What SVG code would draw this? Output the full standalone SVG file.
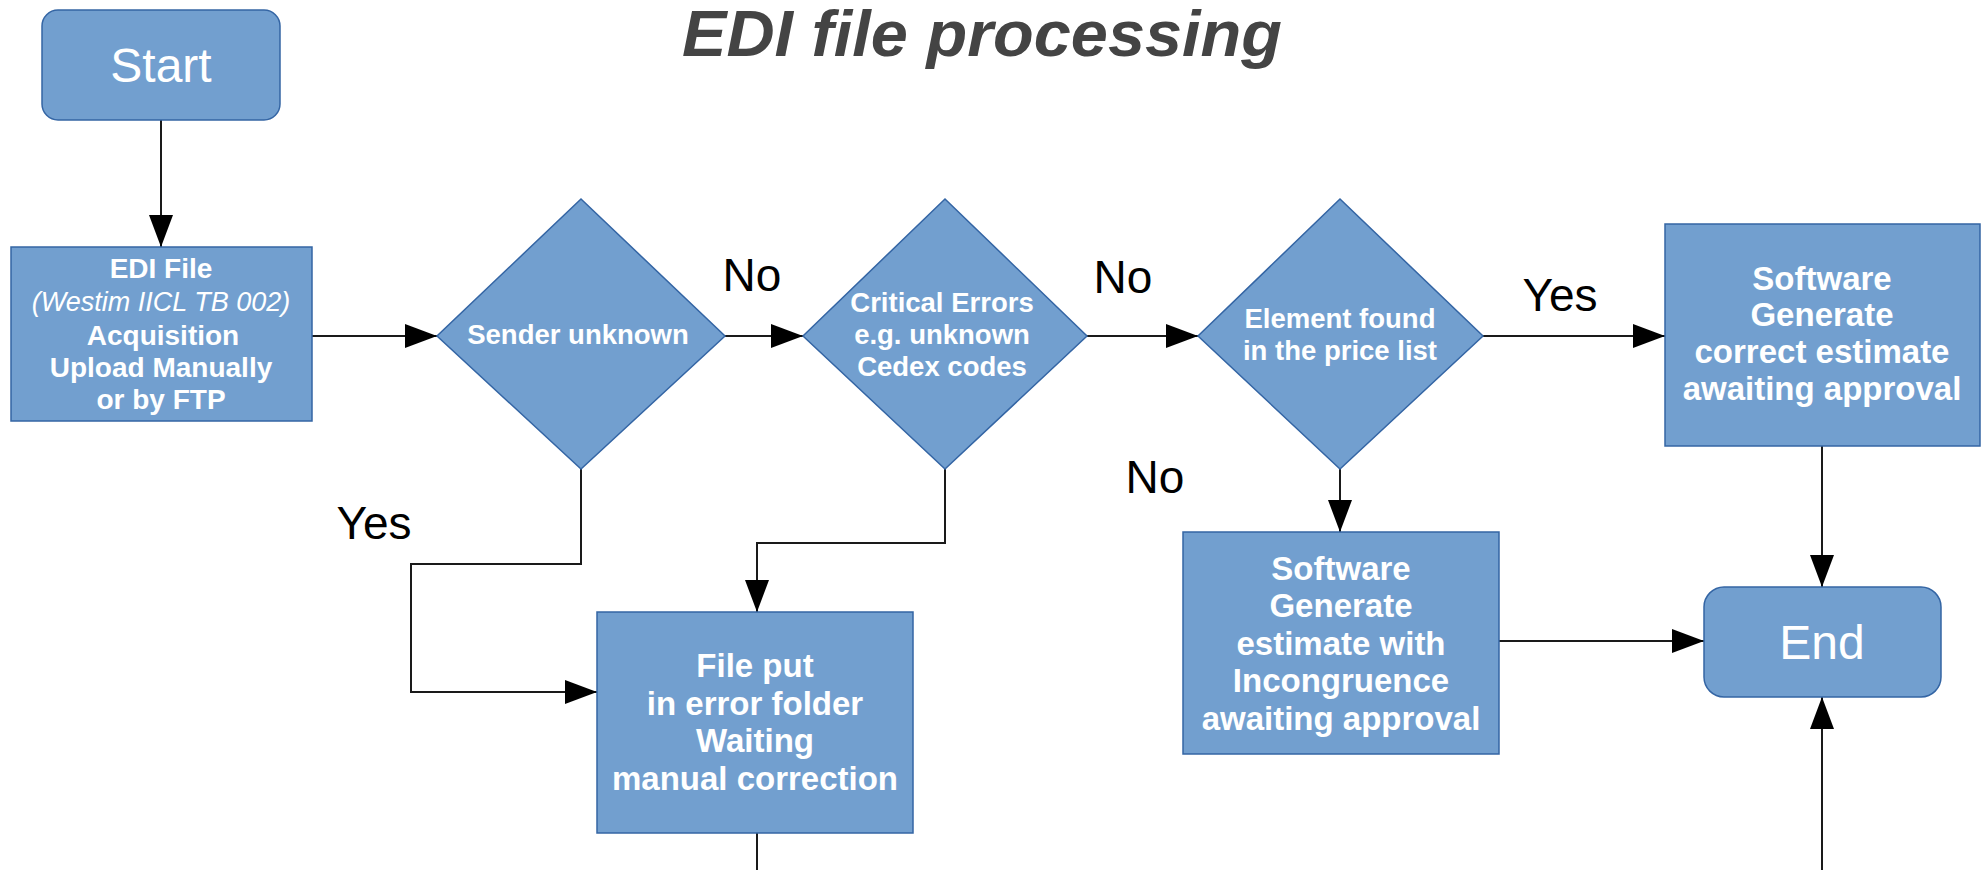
<svg xmlns="http://www.w3.org/2000/svg" width="1988" height="870" viewBox="0 0 1988 870">
<style>
.node{fill:#729fcf;stroke:#3465a4;stroke-width:1.5}
.t{font-family:"Liberation Sans",Arial,sans-serif;fill:#ffffff;text-anchor:middle}
.b{font-weight:bold}
.lbl{font-family:"Liberation Sans",Arial,sans-serif;fill:#000000;font-size:46px;text-anchor:middle}
.conn{fill:none;stroke:#1a1a1a;stroke-width:2}
</style>
<defs>
<marker id="arr" viewBox="0 0 10 10" refX="10" refY="5" markerWidth="32" markerHeight="24" markerUnits="userSpaceOnUse" orient="auto" preserveAspectRatio="none">
<path d="M0,0 L10,5 L0,10 z" fill="#000000"/>
</marker>
</defs>
<rect width="1988" height="870" fill="#ffffff"/>
<text x="982" y="56" font-family="Liberation Sans,Arial,sans-serif" font-size="64" font-weight="bold" font-style="italic" fill="#444444" text-anchor="middle" textLength="600" lengthAdjust="spacingAndGlyphs">EDI file processing</text>

<g id="connectors">
<line class="conn" x1="161" y1="120" x2="161" y2="247" marker-end="url(#arr)"/>
<line class="conn" x1="312" y1="336" x2="437" y2="336" marker-end="url(#arr)"/>
<line class="conn" x1="725" y1="336" x2="803" y2="336" marker-end="url(#arr)"/>
<line class="conn" x1="1087" y1="336" x2="1198" y2="336" marker-end="url(#arr)"/>
<line class="conn" x1="1483" y1="336" x2="1665" y2="336" marker-end="url(#arr)"/>
<polyline class="conn" points="581,469 581,564 411,564 411,692 597,692" marker-end="url(#arr)"/>
<polyline class="conn" points="945,469 945,543 757,543 757,612" marker-end="url(#arr)"/>
<line class="conn" x1="1340" y1="469" x2="1340" y2="532" marker-end="url(#arr)"/>
<line class="conn" x1="1822" y1="446" x2="1822" y2="587" marker-end="url(#arr)"/>
<line class="conn" x1="1499" y1="641" x2="1704" y2="641" marker-end="url(#arr)"/>
<line class="conn" x1="757" y1="833" x2="757" y2="870"/>
<line class="conn" x1="1822" y1="870" x2="1822" y2="697" marker-end="url(#arr)"/>
<text class="lbl" x="752" y="291">No</text>
<text class="lbl" x="1123" y="293">No</text>
<text class="lbl" x="1560" y="311">Yes</text>
<text class="lbl" x="374" y="539">Yes</text>
<text class="lbl" x="1155" y="493">No</text>
</g>

<g id="start">
<rect class="node" x="42" y="10" width="238" height="110" rx="16"/>
<text class="t" x="161" y="82" font-size="48">Start</text>
</g>

<g id="edi-file">
<rect class="node" x="11" y="247" width="301" height="174"/>
<text class="t b" x="161" y="278" font-size="28">EDI File</text>
<text class="t" x="161" y="311" font-size="27" font-style="italic">(Westim IICL TB 002)</text>
<text class="t b" x="163" y="345" font-size="28">Acquisition</text>
<text class="t b" x="161" y="377" font-size="28">Upload Manually</text>
<text class="t b" x="161" y="409" font-size="28">or by FTP</text>
</g>

<g id="sender-unknown">
<polygon class="node" points="581,199 725,336 581,469 437,336"/>
<text class="t b" x="578" y="344" font-size="27.5">Sender unknown</text>
</g>

<g id="critical-errors">
<polygon class="node" points="945,199 1087,336 945,469 803,336"/>
<text class="t b" x="942" y="312" font-size="27.5">Critical Errors</text>
<text class="t b" x="942" y="344" font-size="27.5">e.g. unknown</text>
<text class="t b" x="942" y="376" font-size="27.5">Cedex codes</text>
</g>

<g id="element-found">
<polygon class="node" points="1340,199 1483,336 1340,469 1198,336"/>
<text class="t b" x="1340" y="328" font-size="27.5">Element found</text>
<text class="t b" x="1340" y="360" font-size="27.5">in the price list</text>
</g>

<g id="software-correct">
<rect class="node" x="1665" y="224" width="315" height="222"/>
<text class="t b" x="1822" y="290" font-size="33">Software</text>
<text class="t b" x="1822" y="326" font-size="33">Generate</text>
<text class="t b" x="1822" y="363" font-size="33">correct estimate</text>
<text class="t b" x="1822" y="400" font-size="33">awaiting approval</text>
</g>

<g id="software-incongruence">
<rect class="node" x="1183" y="532" width="316" height="222"/>
<text class="t b" x="1341" y="580" font-size="33">Software</text>
<text class="t b" x="1341" y="617" font-size="33">Generate</text>
<text class="t b" x="1341" y="655" font-size="33">estimate with</text>
<text class="t b" x="1341" y="692" font-size="33">Incongruence</text>
<text class="t b" x="1341" y="730" font-size="33">awaiting approval</text>
</g>

<g id="error-folder">
<rect class="node" x="597" y="612" width="316" height="221"/>
<text class="t b" x="755" y="677" font-size="33">File put</text>
<text class="t b" x="755" y="715" font-size="33">in error folder</text>
<text class="t b" x="755" y="752" font-size="33">Waiting</text>
<text class="t b" x="755" y="790" font-size="33">manual correction</text>
</g>

<g id="end">
<rect class="node" x="1704" y="587" width="237" height="110" rx="20"/>
<text class="t" x="1822" y="659" font-size="48">End</text>
</g>
</svg>
